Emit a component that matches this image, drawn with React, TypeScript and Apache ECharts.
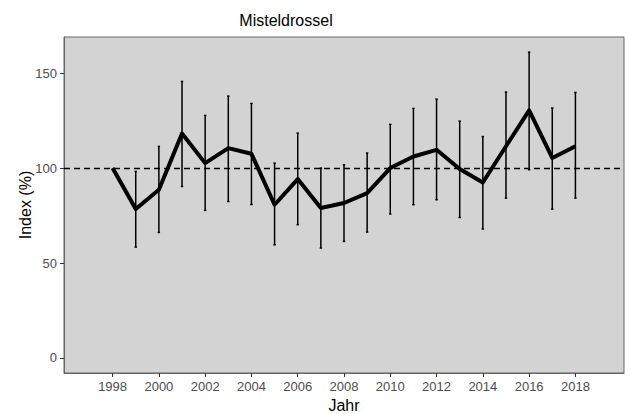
import React, { useEffect, useRef } from "react";
import * as echarts from "echarts";

const years = [1998, 1999, 2000, 2001, 2002, 2003, 2004, 2005, 2006, 2007, 2008, 2009, 2010, 2011, 2012, 2013, 2014, 2015, 2016, 2017, 2018];
const indexValues = [100, 78.4, 88.6, 118.2, 102.6, 110.5, 107.5, 80.7, 94.2, 79, 81.6, 86.8, 100, 106.1, 109.6, 99.5, 92.4, 111.5, 130.4, 105.3, 111.5];
const lowerValues = [null, 58.4, 66.1, 90.3, 77.7, 82.4, 80.8, 59.6, 70.2, 57.9, 61.4, 66.3, 75.8, 80.7, 83.3, 74, 67.9, 84.2, 99.1, 78.4, 84.2];
const upperValues = [null, 98.2, 111.4, 145.6, 127.7, 137.9, 134, 102.6, 118.4, 100, 101.7, 107.9, 123, 131.4, 136.3, 124.7, 116.6, 140, 161, 131.6, 139.8];
const xTicks = [1998, 2000, 2002, 2004, 2006, 2008, 2010, 2012, 2014, 2016, 2018];
const yTicks = [0, 50, 100, 150];
const referenceLine = 100;

const FONT = "'Liberation Sans', Arial, sans-serif";

export default function App() {
  const ref = useRef<HTMLDivElement>(null);
  useEffect(() => {
    if (!ref.current) return;
    const chart = echarts.init(ref.current, null, { renderer: "svg" });
    const lineData = years.map((y, i) => [y, indexValues[i]]);
    const errData = years
      .map((y, i) => [y, lowerValues[i], upperValues[i]])
      .filter((d) => d[1] != null && d[2] != null);
    chart.setOption({
      animation: false,
      backgroundColor: "#ffffff",
      textStyle: { fontFamily: FONT },
      graphic: [
        {
          type: "text",
          x: 286,
          y: 20,
          style: {
            text: "Misteldrossel",
            fontFamily: FONT,
            fontSize: 16,
            fill: "#000",
            textAlign: "center",
            textVerticalAlign: "middle",
          },
        },
      ],
      grid: {
        left: 64,
        top: 37,
        right: 5,
        bottom: 41,
        show: true,
        backgroundColor: "#d3d3d3",
        borderColor: "#666",
        borderWidth: 1,
        containLabel: false,
        outerBoundsMode: "none",
      },
      xAxis: {
        type: "value",
        min: 1995.9,
        max: 2020.1,
        name: "Jahr",
        nameLocation: "middle",
        nameGap: 24,
        nameTextStyle: { fontSize: 16, color: "#000", fontFamily: FONT },
        axisLine: { show: true, onZero: false, lineStyle: { color: "#666", width: 1 } },
        splitLine: { show: false },
        axisTick: { show: true, length: 4, lineStyle: { color: "#333" }, customValues: xTicks },
        axisLabel: { margin: 7, fontSize: 13, color: "#4d4d4d", fontFamily: FONT, customValues: xTicks, formatter: (v: number) => String(v) },
      },
      yAxis: {
        type: "value",
        min: -7.9,
        max: 169,
        name: "Index (%)",
        nameLocation: "middle",
        nameGap: 31,
        nameMoveOverlap: false,
        nameTextStyle: { fontSize: 16, color: "#000", fontFamily: FONT },
        axisLine: { show: true, onZero: false, lineStyle: { color: "#666", width: 1 } },
        splitLine: { show: false },
        axisTick: { show: true, length: 4, lineStyle: { color: "#333" }, customValues: yTicks },
        axisLabel: { margin: 7, fontSize: 13, color: "#4d4d4d", fontFamily: FONT, customValues: yTicks },
      },
      series: [
        {
          type: "custom",
          data: errData,
          z: 3,
          renderItem: (params: any, api: any) => {
            const x = api.value(0);
            const lo = api.coord([x, api.value(1)]);
            const hi = api.coord([x, api.value(2)]);
            const style = { stroke: "#000", lineWidth: 1.5 };
            return {
              type: "group",
              children: [
                { type: "line", shape: { x1: lo[0], y1: lo[1], x2: hi[0], y2: hi[1] }, style },
                { type: "line", shape: { x1: lo[0] - 1.2, y1: lo[1], x2: lo[0] + 1.2, y2: lo[1] }, style },
                { type: "line", shape: { x1: hi[0] - 1.2, y1: hi[1], x2: hi[0] + 1.2, y2: hi[1] }, style },
              ],
            };
          },
        },
        {
          type: "line",
          data: lineData,
          z: 4,
          symbol: "none",
          lineStyle: { color: "#000", width: 4, join: "round" },
          markLine: {
            silent: true,
            symbol: "none",
            label: { show: false },
            lineStyle: { color: "#000", type: [6, 4], width: 1.3 },
            data: [{ yAxis: referenceLine }],
          },
        },
      ],
    });
    return () => chart.dispose();
  }, []);
  return (
    <div
      ref={ref}
      style={{ position: "fixed", left: 0, top: 0, width: 629, height: 414 }}
    />
  );
}
